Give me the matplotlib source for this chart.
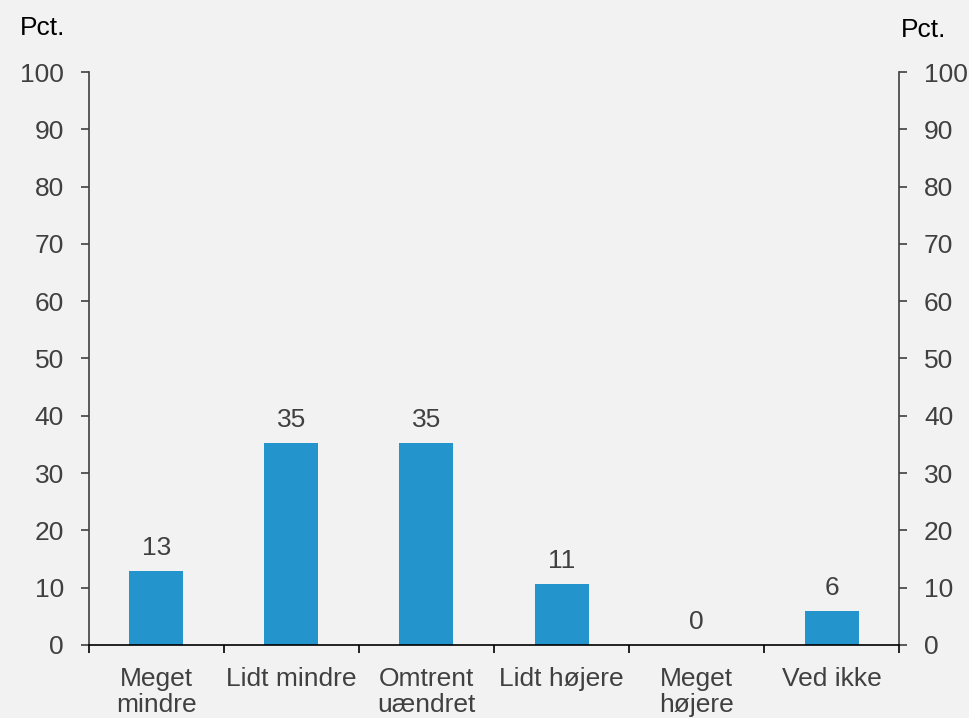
import numpy as np
import matplotlib.pyplot as plt

categories = ["Meget\nmindre", "Lidt mindre", "Omtrent\nuændret", "Lidt højere",
              "Meget\nhøjere", "Ved ikke"]
values = [12.9, 35.3, 35.3, 10.6, 0.0, 5.9]
yticks = list(range(0, 101, 10))

bg = "#f2f2f2"
bar_color = "#2394cc"
text_color = "#404040"
fs = 19

plt.rcParams['font.family'] = ['Liberation Sans', 'DejaVu Sans']

fig = plt.figure(figsize=(9.69, 7.18), dpi=100, facecolor=bg)
ax = fig.add_axes([0.0918, 0.1017, 0.836, 0.798])
ax.set_facecolor(bg)

x = np.arange(len(categories))
ax.bar(x, values, width=0.4, color=bar_color, zorder=2)

for xi, v in zip(x, values):
    ax.annotate(f"{v:.0f}", (xi, v), xytext=(0, 8), textcoords="offset points",
                ha="center", va="bottom", fontsize=fs, color=text_color)

ax.set_xlim(-0.5, len(categories) - 0.5)
ax.set_ylim(0, 100)

# category boundaries as ticks, labels at centers
ax.set_xticks(np.arange(len(categories) + 1) - 0.5)
ax.set_xticklabels([])
ax.tick_params(axis="x", which="major", direction="out", length=6, width=1.2, color="black")
ax.set_xticks(x, minor=True)
ax.set_xticklabels(categories, minor=True)
ax.tick_params(axis="x", which="minor", length=0, pad=16, labelsize=fs, labelcolor=text_color)
for lab in ax.get_xticklabels(minor=True):
    lab.set_linespacing(1.12)

ax.set_yticks(yticks)
ax.tick_params(axis="y", direction="out", length=6, width=1.2, color=text_color,
               labelsize=fs, labelcolor=text_color, pad=12,
               left=True, right=True, labelleft=True, labelright=True)
for lab in ax.get_yticklabels():
    pass
ax.yaxis.set_tick_params(which="major", pad=12)

ax.spines["top"].set_visible(False)
ax.spines["left"].set_color(text_color)
ax.spines["right"].set_color(text_color)
ax.spines["left"].set_linewidth(1.2)
ax.spines["right"].set_linewidth(1.2)
ax.spines["bottom"].set_color("black")
ax.spines["bottom"].set_linewidth(1.2)

fig.text(20 / 969, 1 - 28 / 718, "Pct.", fontsize=fs, color="black", ha="left", va="center")
fig.text(946 / 969, 1 - 30 / 718, "Pct.", fontsize=fs, color="black", ha="right", va="center")

fig.savefig("out.png", dpi=100, facecolor=bg)
